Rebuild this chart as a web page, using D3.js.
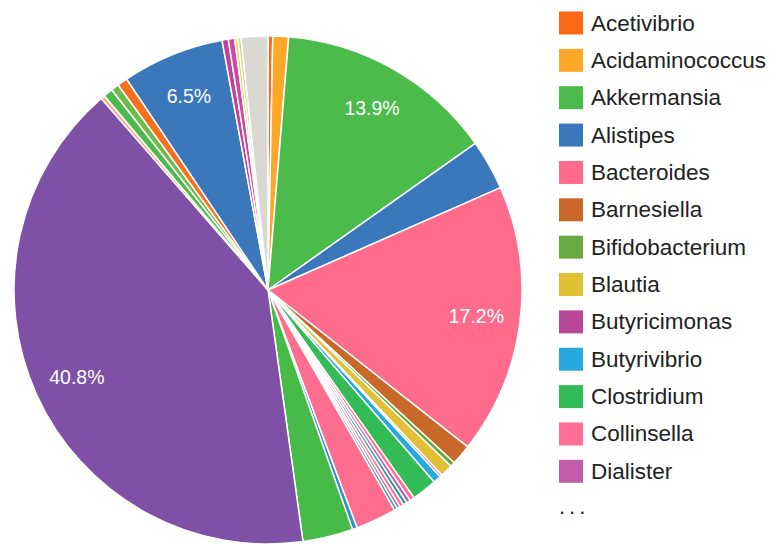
<!DOCTYPE html>
<html>
<head>
<meta charset="utf-8">
<script src="https://cdn.jsdelivr.net/npm/d3@7"></script>
<style>
  html, body { margin: 0; padding: 0; background: #fff; }
  svg { display: block; }
</style>
</head>
<body>
<svg id="chart" width="782" height="545"></svg>
<script>
// ---- data ----
const genera = [
  "Acetivibrio", "Acidaminococcus", "Akkermansia", "Alistipes", "Bacteroides",
  "Barnesiella", "Bifidobacterium", "Blautia", "Butyricimonas", "Butyrivibrio",
  "Clostridium", "Collinsella", "Dialister", "Dorea", "Eggerthella",
  "Enterobacter", "Enterococcus", "Escherichia", "Eubacterium", "Faecalibacterium",
  "Prevotella", "Roseburia", "Ruminococcus", "Streptococcus", "Subdoligranulum",
  "Sutterella", "Turicibacter", "Veillonella", "Victivallis", "Weissella", "Other"
];
const values = [
  0.3, 1.0, 13.9, 3.2, 17.2,
  1.3, 0.3, 0.8, 0.15, 0.5,
  1.6, 0.3, 0.25, 0.25, 0.25,
  0.2, 0.2, 2.6, 0.3, 3.2,
  40.8, 0.25, 0.6, 0.5, 0.65,
  6.5, 0.4, 0.4, 0.2, 0.2, 1.7
];
const legendShown = 13;

// ---- styles ----
const colors = [
  "#fa6a16", "#fda829", "#4bbb4b", "#3a77bb", "#ff6b8b",
  "#c8692a", "#6aaa45", "#e2c035", "#b8479a", "#27a8de",
  "#33bb55", "#ff6e94", "#c25ba9", "#1f9e9e", "#ff7092",
  "#d1579e", "#2a9aa8", "#ff6e8e", "#2f8fc8", "#46bb48",
  "#7e50a6", "#f3b08a", "#4cbb4c", "#6fba4a", "#f8701e",
  "#3a77bb", "#c4409a", "#cc4a9e", "#e2d84a", "#c9d68a", "#d9d9d2"
];

const svg = d3.select("#chart");
const cx = 268, cy = 290, R = 254;

const total = d3.sum(values);
const data = genera.map((g, i) => ({ name: g, value: values[i], color: colors[i] }));

const pie = d3.pie().value(d => d.value).sort(null);
const arcs = pie(data);
const arc = d3.arc().innerRadius(0).outerRadius(R);
const labelArc = d3.arc().innerRadius(210).outerRadius(210);

const g = svg.append("g").attr("transform", `translate(${cx},${cy})`);
g.selectAll("path.slice")
  .data(arcs)
  .join("path")
  .attr("class", "slice")
  .attr("d", arc)
  .attr("fill", d => d.data.color)
  .attr("stroke", "#fff")
  .attr("stroke-width", 1.5);

const fmt = d3.format(".1%");
g.selectAll("text.pct")
  .data(arcs.filter(d => d.data.value / total >= 0.05))
  .join("text")
  .attr("class", "pct")
  .attr("transform", d => `translate(${labelArc.centroid(d)})`)
  .attr("text-anchor", "middle")
  .attr("dy", "0.36em")
  .attr("fill", "#fff")
  .style("font-family", "'Liberation Sans', Arial, sans-serif")
  .style("font-size", "19.5px")
  .text(d => fmt(d.data.value / total));

// ---- legend ----
const legend = svg.append("g").attr("transform", "translate(559,22.5)");
const rowH = 37.36;
const items = legend.selectAll("g.item")
  .data(data.slice(0, legendShown))
  .join("g")
  .attr("class", "item")
  .attr("transform", (d, i) => `translate(0,${i * rowH})`);
items.append("rect")
  .attr("x", 0).attr("y", -11)
  .attr("width", 24).attr("height", 23)
  .attr("fill", d => d.color);
items.append("text")
  .attr("x", 32).attr("y", 8)
  .attr("fill", "#222")
  .style("font-family", "'Liberation Sans', Arial, sans-serif")
  .style("font-size", "22.5px")
  .text(d => d.name);
legend.append("text")
  .attr("x", 0).attr("y", legendShown * rowH + 6)
  .attr("fill", "#222")
  .style("font-family", "'Liberation Sans', Arial, sans-serif")
  .style("font-size", "22px")
  .style("letter-spacing", "4px")
  .text("...");
</script>
</body>
</html>
